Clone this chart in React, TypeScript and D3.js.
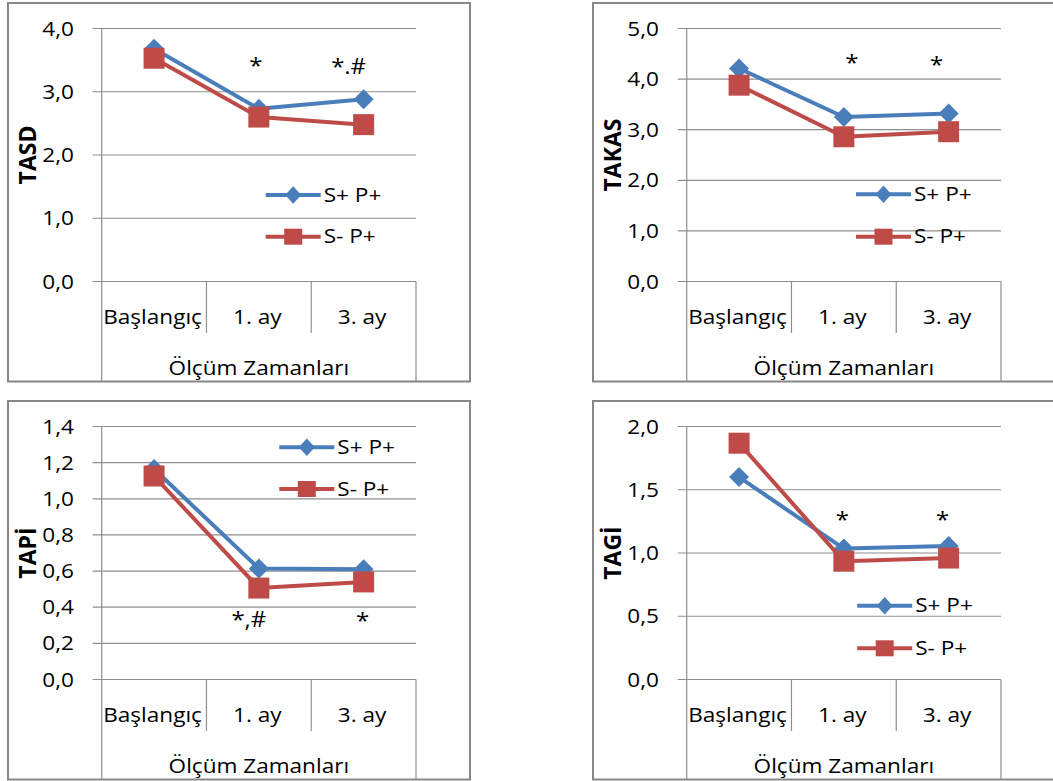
import React from "react";
import * as d3 from "d3";

// ---------- data ----------
const categories = ["Başlangıç", "1. ay", "3. ay"];
const seriesNames = ["S+ P+", "S- P+"];
const axisTitle = "Ölçüm Zamanları";

const tasdSP = [3.68, 2.73, 2.88];
const tasdSM = [3.53, 2.6, 2.48];
const tasdTicks = [0, 1, 2, 3, 4];
const tasdMarks = ["", "*", "*.#"];
const tasdMarkLevel = [0, 3.3, 3.28];

const takasSP = [4.21, 3.25, 3.32];
const takasSM = [3.88, 2.86, 2.96];
const takasTicks = [0, 1, 2, 3, 4, 5];
const takasMarks = ["", "*", "*"];
const takasMarkLevel = [0, 4.18, 4.15];

const tapiSP = [1.165, 0.614, 0.61];
const tapiSM = [1.126, 0.506, 0.54];
const tapiTicks = [0, 0.2, 0.4, 0.6, 0.8, 1.0, 1.2, 1.4];
const tapiMarks = ["", "*,#", "*"];
const tapiMarkLevel = [0, 0.288, 0.283];

const tagiSP = [1.6, 1.035, 1.055];
const tagiSM = [1.868, 0.935, 0.96];
const tagiTicks = [0, 0.5, 1.0, 1.5, 2.0];
const tagiMarks = ["", "*", "*"];
const tagiMarkLevel = [0, 1.205, 1.205];

// ---------- style ----------
const BLUE = "#4A7EBB";
const RED = "#BE4B48";
const GRID = "#8e8e8e";
const BORDER = "#878787";
const FONT = "'Open Sans', sans-serif";
const FS = 19.8;
const SX = 1.14;

const fmt = (v: number) => d3.format(".1f")(v).replace(".", ",");

function T({ x, y, anchor = "start", children, size = FS, weight = 400 }: any) {
  return (
    <text
      transform={`translate(${x},${y}) scale(${SX},1)`}
      textAnchor={anchor}
      fontFamily={FONT}
      fontSize={size}
      fontWeight={weight}
      fill="#000"
    >
      {children}
    </text>
  );
}

const diamond = (cx: number, cy: number, hw: number, hh: number) =>
  `M${cx},${cy - hh}L${cx + hw},${cy}L${cx},${cy + hh}L${cx - hw},${cy}Z`;

function Panel(p: any) {
  const { bx, by, title, ticks, sp, sm, marks, markLevel, markDx, leg } = p;
  const left = bx + 93.7;
  const right = left + 314.3;
  const top = by + 25.5;
  const bottom = by + 278.5;
  const panelBottom = by + 378.5;
  const max = ticks[ticks.length - 1];
  const y = d3.scaleLinear().domain([0, max]).range([bottom, top]);
  const x = d3.scaleBand().domain(categories).range([left, right]).padding(0);
  const bw = x.bandwidth();
  const cx = (i: number) => (x(categories[i]) as number) + bw / 2;
  const line = d3
    .line<number>()
    .x((_, i) => cx(i))
    .y((d) => y(d));

  const legX1 = left + leg.dx;
  const legX2 = legX1 + 55;
  const legMid = (legX1 + legX2) / 2;
  const ly1 = top + leg.y1;
  const ly2 = top + leg.y2;

  return (
    <g>
      <rect x={bx} y={by} width={462} height={378.5} fill="#fff" stroke={BORDER} strokeWidth={2} />
      {ticks.map((t: number) => (
        <line key={t} x1={left - 9} x2={right} y1={y(t)} y2={y(t)} stroke={GRID} strokeWidth={1.2} />
      ))}
      <line x1={left} x2={left} y1={top} y2={panelBottom} stroke={GRID} strokeWidth={1.2} />
      {categories.map((c, i) =>
        i === 0 ? null : (
          <line key={c} x1={x(c)} x2={x(c)} y1={bottom} y2={bottom + 51.5} stroke={GRID} strokeWidth={1.2} />
        )
      )}
      <line x1={right} x2={right} y1={bottom} y2={panelBottom} stroke={GRID} strokeWidth={1.2} />
      {ticks.map((t: number) => (
        <T key={"l" + t} x={left - 27.7} y={y(t) + 7} anchor="end">
          {fmt(t)}
        </T>
      ))}
      <text
        transform={`translate(${left - 74.7},${(top + bottom) / 2}) rotate(-90)`}
        textAnchor="middle"
        dominantBaseline="central"
        fontFamily={FONT}
        fontSize={23}
        fontWeight={700}
        fill="#000"
      >
        {title}
      </text>
      {categories.map((c, i) => (
        <T key={"c" + c} x={cx(i) - 1.5} y={bottom + 42.5} anchor="middle">
          {c}
        </T>
      ))}
      <T x={(left + right) / 2} y={bottom + 93.5} anchor="middle">
        {axisTitle}
      </T>
      {/* series */}
      <path d={line(sp) as string} fill="none" stroke={BLUE} strokeWidth={4} strokeLinejoin="round" />
      {sp.map((v: number, i: number) => (
        <path key={"d" + i} d={diamond(cx(i), y(v), 10, 10)} fill={BLUE} />
      ))}
      <path d={line(sm) as string} fill="none" stroke={RED} strokeWidth={4} strokeLinejoin="round" />
      {sm.map((v: number, i: number) => (
        <rect key={"s" + i} x={cx(i) - 10.5} y={y(v) - 10.5} width={21} height={21} fill={RED} />
      ))}
      {/* annotations */}
      {marks.map((m: string, i: number) =>
        m ? (
          <T key={"m" + i} x={cx(i) + markDx[i]} y={y(markLevel[i])} anchor="middle" size={21}>
            {m}
          </T>
        ) : null
      )}
      {/* legend */}
      <line x1={legX1} x2={legX2} y1={ly1} y2={ly1} stroke={BLUE} strokeWidth={4} />
      <path d={diamond(legMid, ly1, 8, 8.8)} fill={BLUE} />
      <T x={legX2 + 3} y={ly1 + 6.5}>
        {seriesNames[0]}
      </T>
      <line x1={legX1} x2={legX2} y1={ly2} y2={ly2} stroke={RED} strokeWidth={4} />
      <rect x={legMid - 9} y={ly2 - 8} width={18} height={16} fill={RED} />
      <T x={legX2 + 3} y={ly2 + 6.5}>
        {seriesNames[1]}
      </T>
    </g>
  );
}

export default function App() {
  return (
    <svg
      width={1053}
      height={781}
      style={{ position: "absolute", left: 0, top: 0, background: "#fff" }}
    >
      <rect x={0} y={0} width={1053} height={781} fill="#fff" />
      <Panel
        bx={8}
        by={3}
        title="TASD"
        ticks={tasdTicks}
        sp={tasdSP}
        sm={tasdSM}
        marks={tasdMarks}
        markLevel={tasdMarkLevel}
        markDx={[0, -3, -15]}
        leg={{ dx: 164, y1: 166.5, y2: 208.2 }}
      />
      <Panel
        bx={593}
        by={3}
        title="TAKAS"
        ticks={takasTicks}
        sp={takasSP}
        sm={takasSM}
        marks={takasMarks}
        markLevel={takasMarkLevel}
        markDx={[0, 8, -12]}
        leg={{ dx: 169.3, y1: 165.8, y2: 208.2 }}
      />
      <Panel
        bx={8}
        by={401}
        title="TAPİ"
        ticks={tapiTicks}
        sp={tapiSP}
        sm={tapiSM}
        marks={tapiMarks}
        markLevel={tapiMarkLevel}
        markDx={[0, -10, -1]}
        leg={{ dx: 177.6, y1: 20.8, y2: 62.5 }}
      />
      <Panel
        bx={593}
        by={401}
        title="TAGİ"
        ticks={tagiTicks}
        sp={tagiSP}
        sm={tagiSM}
        marks={tagiMarks}
        markLevel={tagiMarkLevel}
        markDx={[0, -1.6, -6]}
        leg={{ dx: 170.5, y1: 179.2, y2: 221.8 }}
      />
    </svg>
  );
}
